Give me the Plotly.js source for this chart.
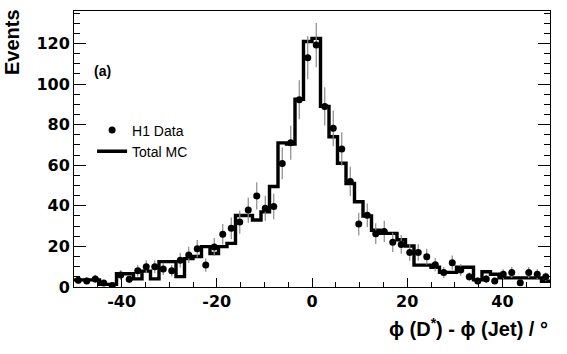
<!DOCTYPE html>
<html><head><meta charset="utf-8">
<script src="https://cdn.plot.ly/plotly-3.0.1.min.js"></script>
<style>html,body{margin:0;padding:0;background:#fff}</style>
</head><body><div id="chart" style="width:567px;height:354px"></div>
<script>
// Binning of the histogram (degrees)
const binLow = -50, binHigh = 50, nBins = 56;

// H1 data (events per bin)
const dataY = [3.3, 3.0, 4.0, 2.0, 0.8, 5.9, 3.8, 8.0, 10.0, 10.0,
               8.9, 8.0, 13.2, 15.8, 18.8, 10.8, 19.7, 26.0, 28.9, 32.0,
               37.9, 44.9, 38.8, 39.7, 60.9, 71.1, 92.3, 113.0, 119.2, 89.0,
               78.2, 68.0, 52.0, 31.0, 35.3, 26.3, 27.4, 22.0, 21.0, 17.0,
               17.0, 14.9, 11.0, 7.1, 12.0, 8.4, 5.0, 3.0, 4.0, 3.0,
               6.3, 7.1, 2.1, 7.1, 6.3, 5.0];
// Statistical errors on the data points
const dataErr = [1.8, 1.7, 2.0, 1.4, 0.9, 2.4, 1.9, 2.8, 3.2, 3.2,
                 3.0, 2.8, 3.6, 4.0, 4.3, 3.3, 4.4, 5.1, 5.4, 5.7,
                 6.2, 6.7, 6.2, 6.3, 7.8, 8.4, 9.6, 10.6, 10.9, 9.4,
                 8.8, 8.2, 7.2, 5.6, 5.9, 5.1, 5.2, 4.7, 4.6, 4.1,
                 4.1, 3.9, 3.3, 2.7, 3.5, 2.9, 2.2, 1.7, 2.0, 1.7,
                 2.5, 2.7, 1.4, 2.7, 2.5, 2.2];
// Total MC prediction per bin
const mcY = [3.5, 3.5, 3.5, 1.3, 1.3, 6.5, 6.5, 4.0, 7.8, 4.0,
             12.5, 12.5, 5.1, 14.0, 15.0, 19.9, 16.5, 19.9, 21.5, 35.2,
             35.2, 33.0, 37.0, 49.5, 71.0, 70.5, 92.5, 121.0, 122.5, 89.0,
             74.0, 61.0, 51.0, 42.0, 35.0, 28.0, 26.4, 26.4, 23.3, 20.2,
             10.8, 10.8, 9.7, 7.2, 7.2, 9.7, 9.7, 3.5, 7.5, 6.3,
             4.5, 4.5, 4.5, 4.5, 4.5, 2.8];

// Tick labels (hyphen-minus as in the original)
const xTickVals = [-40, -20, 0, 20, 40];
const xTickText = ['-40', '-20', '0', '20', '40'];
const yTickVals = [0, 20, 40, 60, 80, 100, 120];
const yTickText = ['0', '20', '40', '60', '80', '100', '120'];

const seriesNames = ['H1 Data', 'Total MC'];
const xTitle = 'ϕ (D<sup>*</sup>) - ϕ (Jet) / °';
const yTitle = 'Events';
const panelLabel = '(a)';

const w = (binHigh - binLow) / nBins;
const centers = dataY.map((_, i) => binLow + (i + 0.5) * w);
const edges = mcY.map((_, i) => binLow + i * w).concat([binHigh]);
const mcStep = mcY.concat([mcY[mcY.length - 1]]);

const traces = [
  {
    x: edges, y: mcStep, type: 'scatter', mode: 'lines',
    line: {shape: 'hv', color: '#000', width: 3.4},
    name: seriesNames[1], legendrank: 2, hoverinfo: 'skip'
  },
  {
    x: centers, y: dataY, type: 'scatter', mode: 'markers',
    marker: {color: '#000', size: 7, symbol: 'circle'},
    error_y: {type: 'data', array: dataErr, visible: true, color: '#8a8a8a', thickness: 1.2, width: 0},
    name: seriesNames[0], legendrank: 1
  }
];

const tickFont = {family: 'DejaVu Sans', size: 16, color: '#000', weight: 'bold'};

const layout = {
  width: 567, height: 354,
  margin: {l: 74, r: 17, t: 11, b: 67, pad: 0},
  paper_bgcolor: '#fff', plot_bgcolor: '#fff',
  showlegend: true,
  legend: {
    x: 0.038, y: 0.625, xanchor: 'left', yanchor: 'top',
    bgcolor: 'rgba(0,0,0,0)', borderwidth: 0,
    font: {family: 'Liberation Sans', size: 14, color: '#000'},
    traceorder: 'normal'
  },
  xaxis: {
    range: [binLow, binHigh], tickmode: 'array', tickvals: xTickVals, ticktext: xTickText,
    ticks: 'inside', ticklen: 9, tickwidth: 1, tickcolor: '#000',
    minor: {dtick: 5, ticks: 'inside', ticklen: 5, tickcolor: '#000', tickwidth: 1},
    showline: true, linecolor: '#000', linewidth: 1, mirror: true,
    showgrid: false, zeroline: false,
    tickfont: tickFont
  },
  yaxis: {
    range: [0, 136], tickmode: 'array', tickvals: yTickVals, ticktext: yTickText,
    ticks: 'inside', ticklen: 12, tickwidth: 1, tickcolor: '#000',
    minor: {dtick: 5, ticks: 'inside', ticklen: 6, tickcolor: '#000', tickwidth: 1},
    showline: true, linecolor: '#000', linewidth: 1, mirror: 'ticks',
    showgrid: false, zeroline: false,
    tickfont: tickFont
  },
  annotations: [
    {text: panelLabel, xref: 'paper', yref: 'paper', x: 0.06, y: 0.783,
     xanchor: 'center', yanchor: 'middle', showarrow: false,
     font: {family: 'Liberation Sans', size: 14, color: '#000', weight: 'bold'}},
    {text: yTitle, xref: 'paper', yref: 'paper', x: -0.13, y: 0.888,
     xanchor: 'center', yanchor: 'middle', textangle: -90, showarrow: false,
     font: {family: 'Liberation Sans', size: 20, color: '#000', weight: 'bold'}},
    {text: xTitle, xref: 'paper', yref: 'paper', x: 1.0, y: -0.145,
     xanchor: 'right', yanchor: 'middle', showarrow: false,
     font: {family: 'Liberation Sans', size: 20, color: '#000', weight: 'bold'}}
  ]
};

Plotly.newPlot('chart', traces, layout, {displayModeBar: false, staticPlot: true});
</script>
</body></html>
